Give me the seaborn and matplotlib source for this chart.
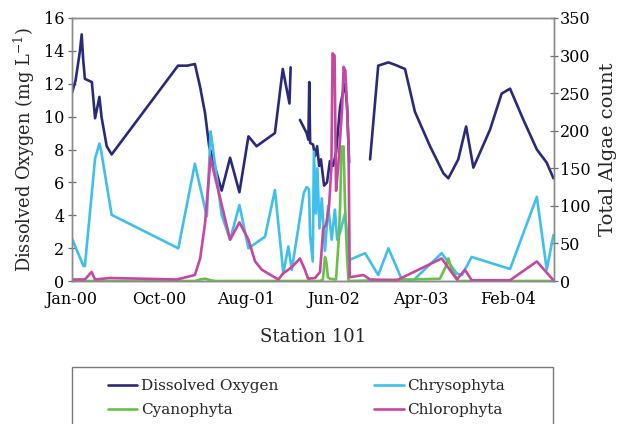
import pandas as pd
import matplotlib
matplotlib.use("Agg")
import matplotlib.pyplot as plt
import matplotlib.dates as mdates
from matplotlib.lines import Line2D
from matplotlib.patches import Rectangle
import seaborn as sns

START = pd.Timestamp("2000-01-01")
END_DAY = 1658

# Dissolved oxygen (mg/L) at Station 101; days counted from 1 Jan 2000.
# The record has two gaps, so it is kept as three runs.
do_days_1 = [1, 14, 29, 35, 40, 46, 70, 81, 96, 103, 121, 138, 366, 397, 424, 442,
             459, 473, 516, 545, 577, 608, 636, 699, 726, 749, 753]
do_vals_1 = [11.4, 12.2, 14.0, 15.0, 13.5, 12.3, 12.1, 9.9, 11.2, 10.0, 8.2, 7.7, 13.1, 13.1, 13.2, 11.8,
             10.2, 8.2, 5.5, 7.5, 5.4, 8.8, 8.2, 9.0, 12.9, 10.8, 13.0]
do_days_2 = [785, 808, 814, 817, 820, 830, 837, 844, 851, 857, 868, 878, 888, 899, 909,
             923, 933, 940, 947, 954]
do_vals_2 = [9.8, 9.0, 8.6, 12.1, 8.4, 8.3, 7.6, 8.2, 7.0, 7.4, 5.8, 6.0, 7.3, 7.0, 7.8,
             10.6, 11.5, 12.0, 10.6, 7.2]
do_days_3 = [1026, 1054, 1089, 1112, 1146, 1180, 1232, 1278, 1295, 1329, 1356, 1381, 1438,
             1478, 1507, 1553, 1599, 1633, 1656]
do_vals_3 = [7.4, 13.1, 13.3, 13.15, 12.9, 10.3, 8.2, 6.55, 6.25, 7.4, 9.4, 6.9, 9.2,
             11.4, 11.7, 9.8, 8.0, 7.2, 6.25]

# Algae counts
chryso_days = [1, 41, 46, 81, 96, 101, 138, 367, 424, 465, 478, 483, 516, 545, 577, 608,
               665, 699, 728, 745, 757, 798, 808, 816, 820, 829, 833, 840, 845, 852, 860,
               871, 882, 894, 905, 913, 923, 940, 955, 1009, 1054, 1089, 1135, 1175, 1272,
               1324, 1342, 1375, 1507, 1599, 1633, 1656]
chryso_vals = [57, 20, 20, 163, 183, 175, 88, 43.5, 156, 86, 199, 185, 88, 55, 101, 43.5,
               59, 121, 10, 46, 15, 117, 125, 122, 60, 26, 172, 90, 150, 70, 110,
               40, 100, 55, 95, 55, 65, 90, 28, 37, 8, 43.5, 2, 1, 37,
               10, 8, 32, 16, 112, 15, 61]

cyano_days = [1, 424, 442, 459, 478, 495, 854, 864, 871, 876, 881, 888, 909, 919, 923,
              928, 935, 940, 947, 952, 1266, 1287, 1295, 1307, 1329, 1656]
cyano_vals = [0, 0, 2, 3, 1, 0, 0, 2, 32, 25, 5, 3, 2, 60, 100,
              179, 179, 100, 30, 0, 3, 20, 30, 15, 0, 0]

chloro_days = [1, 46, 69, 81, 132, 362, 424, 442, 459, 478, 486, 545, 577, 608, 631, 654,
               693, 711, 727, 745, 761, 785, 802, 813, 837, 854, 865, 875, 885, 893, 897,
               904, 909, 916, 923, 930, 935, 941, 947, 952, 956, 1003, 1026, 1118, 1139,
               1272, 1324, 1352, 1375, 1507, 1599, 1656]
chloro_vals = [2, 2, 12, 2, 4, 2, 8, 30, 77, 165, 150, 55, 78, 55, 26, 15,
               6, 2, 10, 15, 20, 30, 15, 3, 4, 12, 70, 75, 100, 150, 303,
               300, 120, 150, 190, 230, 285, 280, 230, 180, 5, 8, 2, 1, 5,
               30, 2, 15, 1, 1, 26, 1]

NAVY = "#2b2a78"
SKY = "#3fbfe9"
GREEN = "#6abf4b"
MAGENTA = "#c6479f"


def to_dates(days):
    return START + pd.to_timedelta(days, unit="D")


do_df = pd.DataFrame({
    "date": to_dates(do_days_1 + do_days_2 + do_days_3),
    "do": do_vals_1 + do_vals_2 + do_vals_3,
    "run": [1] * len(do_days_1) + [2] * len(do_days_2) + [3] * len(do_days_3),
})
chryso_df = pd.DataFrame({"date": to_dates(chryso_days), "count": chryso_vals})
cyano_df = pd.DataFrame({"date": to_dates(cyano_days), "count": cyano_vals})
chloro_df = pd.DataFrame({"date": to_dates(chloro_days), "count": chloro_vals})

sns.set_style("white")
plt.rcParams["font.family"] = ["DejaVu Serif"]
plt.rcParams["mathtext.fontset"] = "dejavuserif"

fig = plt.figure(figsize=(6.19, 4.24), dpi=100)
ax = fig.add_axes([71.5 / 619, 1 - 281 / 424, (554 - 71.5) / 619, (281 - 18) / 424])
ax2 = ax.twinx()

LW = 1.9
sns.lineplot(data=do_df, x="date", y="do", units="run", estimator=None, sort=False,
             color=NAVY, lw=LW, ax=ax)
sns.lineplot(data=chryso_df, x="date", y="count", estimator=None, sort=False,
             color=SKY, lw=LW, ax=ax2)
sns.lineplot(data=cyano_df, x="date", y="count", estimator=None, sort=False,
             color=GREEN, lw=LW, ax=ax2)
sns.lineplot(data=chloro_df, x="date", y="count", estimator=None, sort=False,
             color=MAGENTA, lw=LW, ax=ax2)

ax.set_xlim(START, START + pd.Timedelta(days=END_DAY))
ax.set_ylim(0, 16)
ax2.set_ylim(0, 350)
ax.set_yticks(range(0, 17, 2))
ax2.set_yticks(range(0, 351, 50))

ax.set_xticks([START + pd.Timedelta(days=300 * k) for k in range(6)])
ax.set_xticks([START + pd.Timedelta(days=60 * k) for k in range(END_DAY // 60 + 1)], minor=True)
ax.xaxis.set_major_formatter(mdates.DateFormatter("%b-%y"))

for a in (ax, ax2):
    for s in a.spines.values():
        s.set_color("#8a8a8a")
        s.set_linewidth(1.0)
    a.tick_params(axis="both", which="both", direction="inout", colors="#6a6a6a",
                  labelcolor="black", labelsize=11.5)
    a.tick_params(which="major", length=6, width=0.9)
    a.tick_params(which="minor", length=5, width=0.9)
ax.spines["bottom"].set_color("#555555")
ax.tick_params(axis="x", which="both", pad=4.5)
ax.tick_params(axis="y", pad=2)
ax2.tick_params(axis="y", pad=1)

ax.set_ylabel("Dissolved Oxygen (mg L$^{-1}$)", fontsize=12.8, labelpad=5)
ax2.set_ylabel("Total Algae count", fontsize=14, labelpad=6)
ax.set_xlabel("Station 101", fontsize=13, labelpad=14)

handles = [
    Line2D([], [], color=NAVY, lw=LW),
    Line2D([], [], color=GREEN, lw=LW),
    Line2D([], [], color=SKY, lw=LW),
    Line2D([], [], color=MAGENTA, lw=LW),
]
labels = ["Dissolved Oxygen", "Cyanophyta", "Chrysophyta", "Chlorophyta"]
fig.legend(handles, labels, ncol=2, loc="upper left",
           bbox_to_anchor=(108 / 619, 1 - 379 / 424), frameon=False, fontsize=11,
           handlelength=1.9, handletextpad=0.25, columnspacing=6.3,
           labelspacing=0.65, borderpad=0, borderaxespad=0)
fig.patches.append(Rectangle((71.5 / 619, -0.05), (553 - 71.5) / 619, (424 - 367) / 424 + 0.05,
                             transform=fig.transFigure, fill=False,
                             edgecolor="#7a7a7a", lw=1.0))

fig.savefig("out.png", dpi=100)
